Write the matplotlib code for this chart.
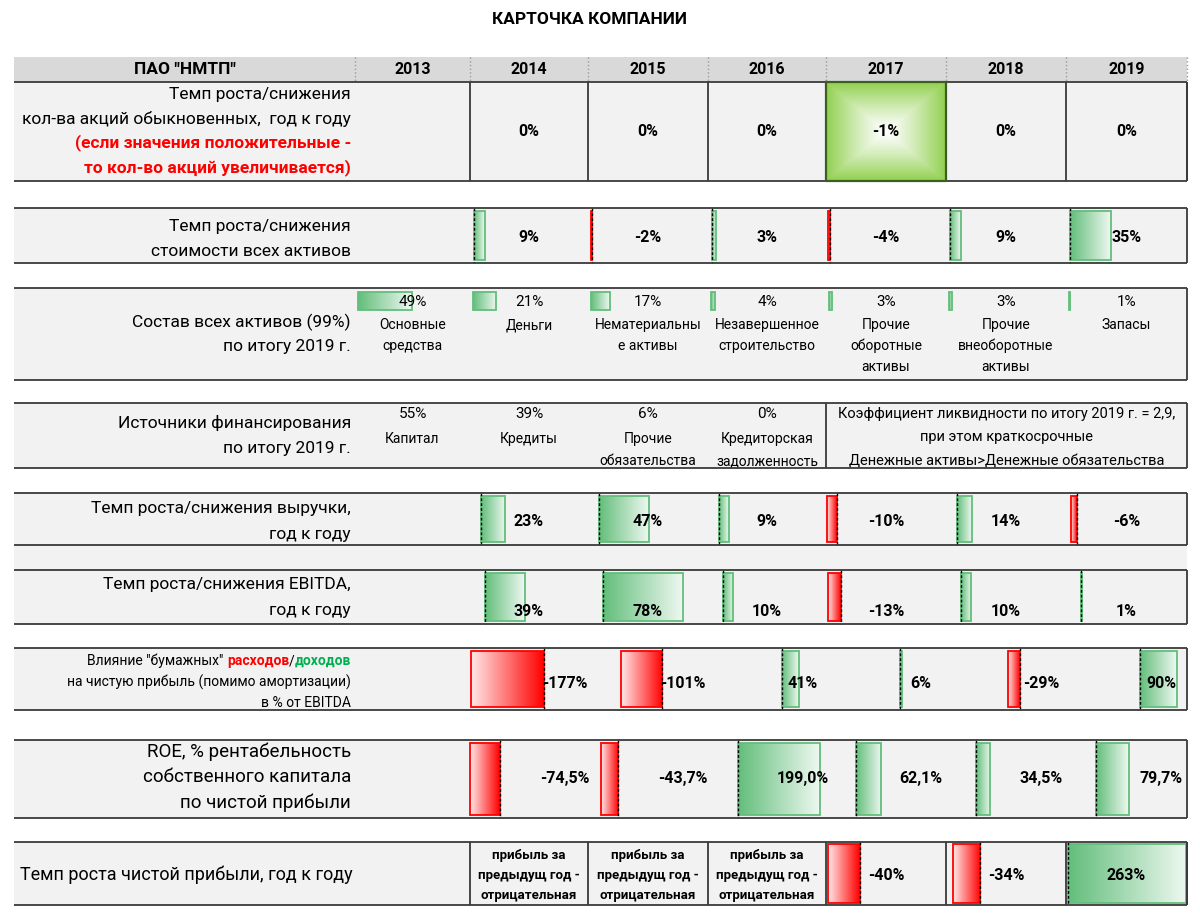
import matplotlib.pyplot as plt
import numpy as np
from matplotlib.colors import to_rgb

plt.rcParams['font.family'] = ['Roboto', 'DejaVu Sans']

# ---- data ----
title = 'КАРТОЧКА КОМПАНИИ'
company = 'ПАО "НМТП"'
years = ['2013', '2014', '2015', '2016', '2017', '2018', '2019']

shares_growth = [None, 0, 0, 0, -1, 0, 0]
assets_growth = [None, 9, -2, 3, -4, 9, 35]
asset_share = [49, 21, 17, 4, 3, 3, 1]
asset_names = ['Основные\nсредства', 'Деньги', 'Нематериальны\nе активы',
               'Незавершенное\nстроительство', 'Прочие\nоборотные\nактивы',
               'Прочие\nвнеоборотные\nактивы', 'Запасы']
funding_share = [55, 39, 6, 0]
funding_names = ['Капитал', 'Кредиты', 'Прочие\nобязательства',
                 'Кредиторская\nзадолженность']
liquidity_note = ('Коэффициент ликвидности по итогу 2019 г. = 2,9,\n'
                  'при этом краткосрочные\n'
                  'Денежные активы>Денежные обязательства')
revenue_growth = [None, 23, 47, 9, -10, 14, -6]
ebitda_growth = [None, 39, 78, 10, -13, 10, 1]
paper_effect = [None, -177, -101, 41, 6, -29, 90]
roe = [None, -74.5, -43.7, 199.0, 62.1, 34.5, 79.7]
profit_growth = [None, None, None, None, -40, -34, 263]
profit_note = 'прибыль за\nпредыдущ год -\nотрицательная'

# ---- layout ----
X0, X1 = 14, 1187
col_edges = [355, 470, 588, 708, 826, 946, 1066, 1187]
LABEL_X = 351
BG = '#f2f2f2'
LINE = '#3a3a3a'
GREEN, GREEN_END = '#63BE7B', '#EEF8F1'
RED, RED_END = '#FF0000', '#FFE8E8'

fig = plt.figure(figsize=(12, 9.17), dpi=100)
ax = fig.add_axes([0, 0, 1, 1])
ax.set_xlim(0, 1200)
ax.set_ylim(917, 0)
ax.axis('off')


def center(i):
    return (col_edges[i] + col_edges[i + 1]) / 2


def row_box(top, bot, right_border=True):
    ax.fill_between([X0, X1], top, bot, color=BG, lw=0, zorder=0)
    ax.hlines([top, bot], X0, X1, color=LINE, lw=1.3, zorder=5)
    if right_border:
        ax.vlines(X1, top, bot, color=LINE, lw=1.3, zorder=5)


def lines(x, y0, dy, text, **kw):
    for k, s in enumerate(text.split('\n')):
        ax.text(x, y0 + k * dy, s, va='center', **kw)


def pct(v, dec=0):
    if dec:
        return f'{v:.{dec}f}'.replace('.', ',') + '%'
    return f'{v:.0f}%'


def grad_fill(patch, c_from, c_to):
    x, y, w, h = patch.get_x(), patch.get_y(), patch.get_width(), patch.get_height()
    x0, x1 = min(x, x + w), max(x, x + w)
    t = np.linspace(0, 1, 128)[None, :, None]
    img = (1 - t) * np.array(to_rgb(c_from)) + t * np.array(to_rgb(c_to))
    im = ax.imshow(img, extent=(x0, x1, y + h, y), aspect='auto', zorder=2,
                   interpolation='bilinear')
    im.set_clip_path(patch)


def data_bars(top, bot, values, scale, pos_off, neg_off, neg_scale=None,
              inset=3, axis_line=True):
    neg_scale = scale if neg_scale is None else neg_scale
    ys, lefts, widths, cols = [], [], [], []
    for i, v in enumerate(values):
        if v is None:
            continue
        if v >= 0:
            lefts.append(col_edges[i] + pos_off)
            widths.append(v * scale)
            cols.append('pos')
        else:
            lefts.append(col_edges[i] + neg_off)
            widths.append(v * neg_scale)
            cols.append('neg')
        ys.append((top + bot) / 2)
        if axis_line:
            ax.vlines(lefts[-1], top, bot, color='black', lw=1,
                      linestyles=(0, (2, 1.5)), zorder=4)
    bars = ax.barh(ys, widths, left=lefts, height=bot - top - 2 * inset,
                   facecolor='none', lw=1.3, zorder=3)
    for b, c in zip(bars, cols):
        if c == 'pos':
            b.set_edgecolor(GREEN)
            grad_fill(b, GREEN, GREEN_END)
        else:
            b.set_edgecolor(RED)
            grad_fill(b, RED_END, RED)


VAL = dict(fontsize=11.5, fontweight='bold', ha='center')
LAB = dict(fontsize=12.5, ha='right')

# title
ax.text(590, 20, title, ha='center', va='center', fontsize=12.5, fontweight='bold')

# header
ax.fill_between([X0, X1], 57, 82, color='#d9d9d9', lw=0, zorder=0)
ax.vlines(col_edges, 57, 82, color='#9a9a9a', lw=1, linestyles=':', zorder=1)
ax.text((X0 + col_edges[0]) / 2, 70, company, ha='center', va='center',
        fontsize=12.5, fontweight='bold')
for i, yr in enumerate(years):
    ax.text(center(i), 70, yr, ha='center', va='center', fontsize=11.5,
            fontweight='bold')

# row 1: shares count
row_box(82, 181)
ax.vlines(col_edges[1:], 82, 181, color=LINE, lw=1.3, zorder=5)
hl = shares_growth.index(min(v for v in shares_growth if v is not None))
xs = np.linspace(-1, 1, 121)
d = np.maximum(np.abs(xs)[None, :], np.abs(xs)[:, None]) ** 1.2
img = (1 - d)[..., None] * np.ones(3) + d[..., None] * np.array(to_rgb('#92D050'))
ax.imshow(img, extent=(col_edges[hl], col_edges[hl + 1], 181, 82), aspect='auto',
          zorder=1, interpolation='bilinear')
ax.plot([col_edges[hl], col_edges[hl + 1], col_edges[hl + 1], col_edges[hl], col_edges[hl]],
        [82, 82, 181, 181, 82], color='#3d5e22', lw=1.6, zorder=6)
lines(LABEL_X, 95, 24, 'Темп роста/снижения\nкол-ва акций обыкновенных,  год к году', **LAB)
lines(LABEL_X, 143, 25, '(если значения положительные -\nто кол-во акций увеличивается)',
      color='#FF0000', fontweight='bold', fontsize=12.5, ha='right')
for i, v in enumerate(shares_growth):
    if v is not None:
        ax.text(center(i), 131, pct(v), va='center', **VAL)

# row 2: assets growth
row_box(208, 263)
lines(LABEL_X, 226, 25, 'Темп роста/снижения\nстоимости всех активов', **LAB)
data_bars(208, 263, assets_growth, 1.17, 4, 4, neg_scale=0.6)
for i, v in enumerate(assets_growth):
    if v is not None:
        ax.text(center(i), 238, pct(v), va='center', zorder=6, **VAL)

# row 3: asset composition
row_box(288, 380)
lines(LABEL_X, 322, 25, 'Состав всех активов (99%)\nпо итогу 2019 г.', **LAB)
bars = ax.barh([301] * len(asset_share), [v * 1.1 for v in asset_share],
               left=[e + 3 for e in col_edges[:-1]], height=18,
               facecolor='none', edgecolor=GREEN, lw=1.3, zorder=3)
for b in bars:
    grad_fill(b, GREEN, GREEN_END)
for i, (v, name) in enumerate(zip(asset_share, asset_names)):
    ax.text(center(i), 302, pct(v), ha='center', va='center', fontsize=11, zorder=6)
    lines(center(i), 325, 21, name, ha='center', fontsize=10)

# row 4: funding sources
row_box(403, 468)
ax.vlines(col_edges[4], 403, 468, color=LINE, lw=1.3, zorder=5)
lines(LABEL_X, 423, 25, 'Источники финансирования\nпо итогу 2019 г.', **LAB)
for i, (v, name) in enumerate(zip(funding_share, funding_names)):
    ax.text(center(i), 414, pct(v), ha='center', va='center', fontsize=11)
    lines(center(i), 439, 22, name, ha='center', fontsize=10)
lines((col_edges[4] + col_edges[7]) / 2, 414, 23.5, liquidity_note,
      ha='center', fontsize=10.5)

# row 5: revenue growth
row_box(493, 545)
ax.fill_between([X0, X1], 545, 570, color=BG, lw=0, zorder=0)
lines(LABEL_X, 509, 25, 'Темп роста/снижения выручки,\nгод к году', **LAB)
data_bars(493, 545, revenue_growth, 1.06, 11, 11, neg_scale=1.0)
for i, v in enumerate(revenue_growth):
    if v is not None:
        ax.text(center(i), 521, pct(v), va='center', zorder=6, **VAL)

# row 6: EBITDA growth
row_box(570, 624)
lines(LABEL_X, 585, 26, 'Темп роста/снижения EBITDA,\nгод к году', **LAB)
data_bars(570, 624, ebitda_growth, 1.02, 15, 15, neg_scale=1.0)
for i, v in enumerate(ebitda_growth):
    if v is not None:
        ax.text(center(i), 611, pct(v), va='center', zorder=6, **VAL)

# row 7: paper expenses / income
row_box(648, 710)
fig.canvas.draw()
renderer = fig.canvas.get_renderer()
inv = ax.transData.inverted()
pieces = [('Влияние "бумажных" ', 'black', 'normal'), ('расходов', '#FF0000', 'bold'),
          ('/', 'black', 'normal'), ('доходов', '#00B050', 'bold')]
x = LABEL_X
for txt, col, wt in reversed(pieces):
    t = ax.text(x, 661, txt, ha='right', va='center', color=col, fontweight=wt,
                fontsize=10)
    bb = t.get_window_extent(renderer)
    x = inv.transform((bb.x0, bb.y0))[0]
lines(LABEL_X, 682, 21, 'на чистую прибыль (помимо амортизации)\nв % от EBITDA',
      ha='right', fontsize=10)
data_bars(648, 710, paper_effect, 0.41, 74, 74)
for i, v in enumerate(paper_effect):
    if v is not None:
        ax.text(col_edges[i] + 95, 684, pct(v), va='center', zorder=6, **VAL)

# row 8: ROE
row_box(740, 818)
lines(LABEL_X, 752, 25.5, 'ROE, % рентабельность\nсобственного капитала\nпо чистой прибыли',
      fontsize=13.5, ha='right')
data_bars(740, 818, roe, 0.41, 30, 30, neg_scale=0.4)
for i, v in enumerate(roe):
    if v is not None:
        ax.text(col_edges[i] + 95, 778, pct(v, 1), va='center', zorder=6, **VAL)

# row 9: net profit growth
row_box(842, 905)
ax.text(20, 875, 'Темп роста чистой прибыли, год к году', ha='left', va='center',
        fontsize=13)
ax.vlines(col_edges[1:], 842, 905, color=LINE, lw=1.3, zorder=5)
for i, v in enumerate(profit_growth):
    if v is None and i > 0:
        lines(center(i), 855, 20, profit_note, ha='center', fontsize=9.5,
              fontweight='bold')
data_bars(842, 905, profit_growth, 0.45, 1.5, 34, neg_scale=0.8, inset=2)
for i, v in enumerate(profit_growth):
    if v is not None:
        ax.text(center(i), 875, pct(v), va='center', zorder=6, **VAL)

ax.set_xlim(0, 1200)
ax.set_ylim(917, 0)
fig.savefig('out.png', dpi=100, facecolor='white')
